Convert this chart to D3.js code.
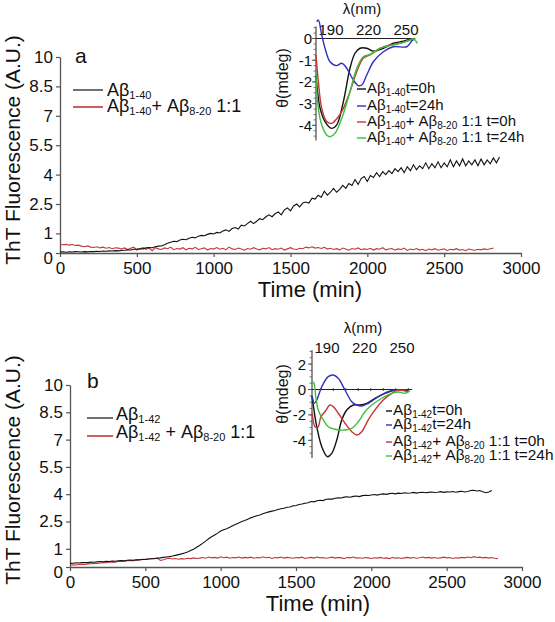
<!DOCTYPE html>
<html><head><meta charset="utf-8">
<script src="https://cdn.jsdelivr.net/npm/d3@7"></script>
<style>body{margin:0;background:#fff} svg{display:block} text{font-family:"Liberation Sans",Arial,sans-serif;fill:#111}</style>
</head><body><svg id="c" width="555" height="622"></svg>
<script>
// ---------------- DATA ----------------
const timeTicks = [0, 500, 1000, 1500, 2000, 2500, 3000];
const yTicks = [0, 1, 2.5, 4, 5.5, 7, 8.5, 10];
const timeStep = 20; // min between samples

// Panel a (Aβ1-40), ThT fluorescence, samples every 20 min starting at 0
const a_ab140 = [0.05,0.06,0.04,0.06,0.05,0.07,0.06,0.05,0.07,0.06,0.08,0.07,0.09,0.08,0.1,0.09,0.11,0.1,0.12,0.11,0.13,
 0.14,0.16,0.15,0.19,0.2,0.22,0.21,0.26,0.28,0.27,0.32,0.35,0.36,0.42,0.5,
 0.55,0.6,0.58,0.66,0.7,0.68,0.75,0.8,0.77,0.86,0.9,0.88,0.95,1.0,0.97,
 1.05,1.02,1.12,1.18,1.1,1.25,1.3,1.22,1.42,1.38,1.5,1.62,1.5,1.62,1.75,
 1.7,1.85,1.95,1.85,2.0,2.1,1.95,2.2,2.3,2.15,2.4,2.5,2.35,2.55,2.6,
 2.55,2.8,2.75,2.95,2.85,3.15,2.95,3.1,3.3,3.1,3.25,3.45,3.3,3.55,3.45,
 3.75,3.5,3.8,3.9,3.65,3.95,3.85,4.1,3.9,4.15,4.0,4.2,4.05,4.3,4.15,
 4.35,4.1,4.4,4.2,4.5,4.25,4.45,4.3,4.6,4.3,4.55,4.35,4.65,4.35,4.6,
 4.4,4.75,4.4,4.7,4.45,4.8,4.45,4.7,4.5,4.75,4.45,4.8,4.5,4.75,4.55,4.85,4.6,4.9];
const a_ab140_ab820 = [0.45,0.42,0.44,0.4,0.43,0.38,0.4,0.35,0.32,0.36,0.3,0.28,0.32,0.26,0.3,0.24,0.28,0.22,0.27,0.25,
 0.2,0.26,0.18,0.24,0.3,0.15,0.22,0.28,0.19,0.25,
 0.12,0.27,0.21,0.18,0.26,0.22,0.3,0.17,0.23,0.2,
 0.27,0.16,0.24,0.21,0.29,0.18,0.22,0.26,0.15,0.23,
 0.2,0.28,0.19,0.24,0.17,0.3,0.21,0.18,0.25,0.2,
 0.14,0.23,0.19,0.27,0.2,0.16,0.24,0.21,0.28,0.17,
 0.22,0.19,0.25,0.15,0.21,0.27,0.2,0.18,0.24,0.22,
 0.3,0.26,0.32,0.25,0.28,0.23,0.29,0.2,0.24,0.18,
 0.22,0.16,0.25,0.2,0.14,0.23,0.19,0.26,0.17,0.21,
 0.18,0.24,0.15,0.22,0.19,0.27,0.16,0.2,0.23,0.14,
 0.21,0.18,0.25,0.13,0.2,0.17,0.23,0.15,0.19,0.12,
 0.2,0.16,0.22,0.14,0.18,0.21,0.13,0.19,0.16,0.22,
 0.15,0.18,0.12,0.2,0.17,0.14,0.19,0.16,0.21,0.18,
 0.22,0.25];

// Panel b (Aβ1-42)
const b_ab142 = [0.2,0.21,0.23,0.22,0.24,0.25,0.24,0.27,0.26,0.28,0.3,0.29,0.31,0.3,0.33,0.32,0.34,0.35,0.34,0.37,
 0.38,0.37,0.4,0.39,0.41,0.42,0.44,0.45,0.47,0.49,0.5,0.53,0.55,0.57,0.6,0.64,0.68,0.72,0.77,0.83,
 0.9,0.98,1.08,1.18,1.3,1.42,1.55,1.66,1.76,1.86,1.98,2.05,2.1,2.18,2.27,2.35,2.42,2.5,2.55,2.63,
 2.7,2.76,2.82,2.86,2.93,2.98,3.03,3.07,3.1,3.16,3.2,3.23,3.28,3.3,3.36,3.38,3.43,3.46,3.5,3.53,
 3.6,3.58,3.64,3.67,3.65,3.72,3.74,3.73,3.78,3.8,3.79,3.84,3.86,3.83,3.88,3.9,3.87,3.92,3.94,3.93,
 3.96,3.98,3.95,4.0,4.02,3.99,4.03,4.05,4.02,4.06,4.04,4.08,4.05,4.07,4.1,4.06,4.09,4.11,4.08,4.1,
 4.12,4.09,4.11,4.14,4.1,4.13,4.12,4.15,4.11,4.14,4.16,4.12,4.15,4.2,4.22,4.18,4.2,4.14,4.08,4.12,
 4.2];
const b_ab142_ab820 = [0.1,0.12,0.11,0.14,0.15,0.14,0.17,0.18,0.2,0.19,0.22,0.24,0.23,0.26,0.28,0.27,0.3,0.32,0.31,0.34,
 0.36,0.35,0.38,0.4,0.42,0.41,0.44,0.46,0.45,0.48,0.36,0.4,0.45,0.48,0.44,0.47,0.43,0.46,0.44,0.48,
 0.46,0.5,0.47,0.49,0.52,0.48,0.55,0.5,0.53,0.49,0.56,0.51,0.54,0.48,0.52,0.5,0.55,0.49,0.53,0.5,
 0.54,0.48,0.52,0.5,0.56,0.51,0.53,0.47,0.52,0.5,0.55,0.49,0.53,0.51,0.48,0.52,0.5,0.54,0.47,0.51,
 0.53,0.49,0.55,0.5,0.52,0.48,0.51,0.54,0.49,0.53,0.5,0.47,0.52,0.5,0.55,0.49,0.51,0.48,0.52,0.5,
 0.47,0.51,0.49,0.53,0.48,0.5,0.46,0.52,0.49,0.51,0.47,0.5,0.53,0.49,0.52,0.48,0.51,0.55,0.5,0.53,
 0.49,0.52,0.48,0.5,0.54,0.5,0.52,0.47,0.51,0.49,0.53,0.5,0.55,0.51,0.57,0.52,0.54,0.5,0.53,0.49,
 0.52,0.48,0.46];

// CD insets: [wavelength nm, θ mdeg]
const cdTicks = [190, 220, 250];
const cdA_t0 = [[178,-1.7],[181.2,-3.2],[185.2,-3.83],[190.5,-4.14],[194.5,-3.99],[199.9,-2.91],[205.2,-1.37],[209.2,-0.68],[213.2,-0.45],[218.6,-0.45],[223.9,-0.58],[231.9,-0.45],[239.9,-0.22],[247.9,-0.12],[254.6,-0.02],[257,0]];
const cdA_t24 = [[178.6,0.77],[179.9,0.85],[182.6,0.16],[185.2,-0.45],[189.2,-1.07],[194.5,-1.25],[198.6,-1.14],[202.6,-1.37],[207.8,-1.91],[211.8,-2.17],[214.6,-2.14],[218.6,-1.68],[223.9,-1.07],[231.9,-0.61],[239.9,-0.38],[250.6,-0.38],[254.6,-0.12],[257,0]];
const cdA_mix_t0 = [[178,-0.76],[179.9,-1.99],[182.6,-3.22],[186.6,-3.83],[190.5,-3.91],[195.9,-3.6],[199.9,-3.22],[205.2,-2.45],[210.6,-1.53],[215.8,-0.91],[221.2,-0.76],[229.2,-0.45],[237.2,-0.3],[245.2,-0.22],[253.2,-0.07],[257,-0.02]];
const cdA_mix_t24 = [[177.8,-1.53],[179.9,-3.22],[182.6,-3.99],[186.6,-4.45],[189.2,-4.53],[193.2,-4.37],[198.6,-3.68],[205.2,-2.45],[210.6,-1.37],[215.8,-0.84],[221.2,-0.73],[229.2,-0.45],[237.2,-0.33],[247.9,-0.18],[253.2,-0.07],[255.8,0],[259,-0.22]];

const cdB_t0 = [[178,-0.5],[181.8,-2.93],[185.8,-4.5],[190.3,-5.29],[193.8,-5.03],[197.8,-3.98],[201.8,-2.4],[205.8,-1.61],[211,-1.22],[216.4,-1.22],[221.8,-1.09],[228.4,-0.69],[236.4,-0.3],[244.4,-0.04],[255,-0.09]];
const cdB_t24 = [[178.2,-0.57],[179.8,-1.09],[181.8,-0.83],[185.8,0.22],[191,1.01],[195,1.14],[199,0.88],[204.4,-0.04],[209.8,-0.96],[213.8,-1.22],[217.8,-1.3],[223,-1.09],[231,-0.57],[239,-0.17],[244.4,-0.04],[255,-0.04]];
const cdB_mix_t0 = [[178.2,-1.87],[180.4,-2.93],[182.6,-2.98],[185.2,-2.14],[188.4,-1.75],[192.4,-1.22],[195,-1.35],[199,-1.87],[204.4,-2.66],[209.8,-3.32],[213.8,-3.58],[217.8,-3.32],[223,-2.4],[228.4,-1.61],[235,-0.83],[241.8,-0.3],[247,-0.04],[255,-0.17]];
const cdB_mix_t24 = [[178.2,0.61],[179.6,0.49],[181,-0.57],[183,-1.61],[187,-2.4],[191,-2.93],[196.4,-3.13],[204.4,-3.19],[209.8,-3.06],[215,-2.54],[220.4,-1.75],[225.8,-1.22],[233.8,-0.69],[241.8,-0.3],[247,-0.2],[252.4,-0.3],[256.4,-0.12]];

const COL = {black:'#111', red:'#c03838', blue:'#3030c0', green:'#3cbf3c', axis:'#555'};

// ---------------- DRAW ----------------
const svg = d3.select('#c');

function rich(g, x, y, parts, size, subSize, shift, anchor) {
  const t = g.append('text').attr('x', x).attr('y', y).attr('font-size', size);
  if (anchor) t.attr('text-anchor', anchor);
  let down = false;
  parts.forEach(p => {
    const ts = t.append('tspan');
    if (typeof p === 'string') {
      ts.text(p);
      if (down) { ts.attr('dy', -shift); down = false; }
    } else {
      ts.text(p.sub).attr('font-size', subSize);
      if (!down) { ts.attr('dy', shift); down = true; }
    }
  });
  return t;
}

function mainPanel(c) {
  const g = svg.append('g');
  const x = d3.scaleLinear().domain([0, 3000]).range([c.x0, c.x1]);
  const y = d3.scaleLinear().domain([0, 10]).range([c.y0, c.y1]);
  const fmt = d => String(d);
  const ax = g.append('g').attr('transform', `translate(0,${c.y0})`)
    .call(d3.axisBottom(x).tickValues(timeTicks).tickFormat(fmt).tickSize(4).tickSizeOuter(0).tickPadding(5));
  const ay = g.append('g').attr('transform', `translate(${c.x0},0)`)
    .call(d3.axisLeft(y).tickValues(yTicks).tickFormat(fmt).tickSize(4).tickSizeOuter(0).tickPadding(3));
  [ax, ay].forEach(a => {
    a.select('.domain').attr('stroke', COL.axis).attr('stroke-width', 1.3);
    a.selectAll('.tick line').attr('stroke', COL.axis).attr('stroke-width', 1.2);
    a.selectAll('.tick text').attr('font-size', 17).attr('fill', '#111')
      .attr('font-family', '"Liberation Sans",Arial,sans-serif');
  });
  ay.selectAll('.tick').filter(d => d === 0).select('text').attr('dy', '0.6em');

  const line = d3.line().x(d => x(d[0])).y(d => y(d[1]));
  const toPts = arr => arr.map((v, i) => [i * timeStep, v]);
  g.append('path').datum(toPts(c.red)).attr('d', line).attr('fill', 'none')
    .attr('stroke', COL.red).attr('stroke-width', 1.1);
  g.append('path').datum(toPts(c.black)).attr('d', line).attr('fill', 'none')
    .attr('stroke', COL.black).attr('stroke-width', 1.1);

  // titles
  g.append('text').attr('x', c.xt).attr('y', c.yt).attr('text-anchor', 'middle')
    .attr('font-size', 22).text('Time (min)');
  g.append('text').attr('transform', `translate(20,${c.ytitleY}) rotate(-90)`)
    .attr('text-anchor', 'middle').attr('font-size', 21).text('ThT Fluorescence (A.U.)');
  g.append('text').attr('x', c.lx).attr('y', c.ly).attr('font-size', 21).text(c.letter);

  // legend
  c.legend.forEach((L, i) => {
    g.append('line').attr('x1', c.legX0).attr('x2', c.legX1).attr('y1', L.ly).attr('y2', L.ly)
      .attr('stroke', L.color).attr('stroke-width', i === 0 ? 1.2 : 1.6);
    rich(g, c.legTx, L.ty, L.parts, 18, 11, 3);
  });
}

function inset(c) {
  const g = svg.append('g');
  const x = d3.scaleLinear().domain([178, 260]).range([c.x0, c.x0 + 82 * 1.25]);
  const y = d3.scaleLinear().domain([0, 1]).range([c.zeroY, c.zeroY - c.unit]);
  // y axis
  g.append('line').attr('x1', c.x0).attr('x2', c.x0).attr('y1', y(c.yMax)).attr('y2', y(c.yMin))
    .attr('stroke', COL.axis).attr('stroke-width', 1.3);
  // minor ticks
  const minors = d3.range(Math.ceil(c.yMin / c.minor) * c.minor, c.yMax + 1e-9, c.minor);
  g.selectAll('.mn').data(minors).enter().append('line')
    .attr('x1', c.x0 - 2.5).attr('x2', c.x0).attr('y1', d => y(d)).attr('y2', d => y(d))
    .attr('stroke', COL.axis).attr('stroke-width', 0.8);
  g.selectAll('.mj').data(c.yTicks).enter().append('line')
    .attr('x1', c.x0 - 4).attr('x2', c.x0).attr('y1', d => y(d)).attr('y2', d => y(d))
    .attr('stroke', COL.axis).attr('stroke-width', 1);
  g.selectAll('.yl').data(c.yTicks).enter().append('text')
    .attr('x', c.labX).attr('y', d => y(d)).attr('dy', '0.36em').attr('text-anchor', 'end')
    .attr('font-size', 15).text(d => String(d));
  // x axis at zero
  g.append('line').attr('x1', c.x0).attr('x2', x(c.xEnd)).attr('y1', y(0)).attr('y2', y(0))
    .attr('stroke', '#222').attr('stroke-width', 1.2);
  if (c.xMinor) {
    g.selectAll('.xm').data(d3.range(185, c.xEnd, 10)).enter().append('line')
      .attr('x1', d => x(d)).attr('x2', d => x(d)).attr('y1', y(0) - 1.5).attr('y2', y(0) + 1.5)
      .attr('stroke', '#222').attr('stroke-width', 0.8);
  }
  g.selectAll('.xl').data(cdTicks).enter().append('text')
    .attr('x', d => x(d)).attr('y', c.xLabY).attr('text-anchor', 'middle')
    .attr('font-size', 15).text(d => String(d));
  g.append('text').attr('x', c.lamX).attr('y', c.lamY).attr('text-anchor', 'middle')
    .attr('font-size', 15).text('λ(nm)');
  g.append('text').attr('transform', `translate(288,${c.thY}) rotate(-90)`)
    .attr('text-anchor', 'middle').attr('font-size', 16).text('θ(mdeg)');

  const line = d3.line().x(d => x(d[0])).y(d => y(d[1])).curve(d3.curveCatmullRom.alpha(0.5));
  c.series.forEach(s => {
    g.append('path').datum(s.data).attr('d', line).attr('fill', 'none')
      .attr('stroke', s.color).attr('stroke-width', 1.4);
  });
  // legend
  c.series.forEach((s, i) => {
    const yy = c.legY[i];
    g.append('line').attr('x1', c.legX0).attr('x2', c.legX1).attr('y1', yy - 4).attr('y2', yy - 4)
      .attr('stroke', s.color).attr('stroke-width', 1.4);
    rich(g, c.legTx, yy, s.parts, c.legSize, 10, 3);
  });
}

mainPanel({
  x0: 60, x1: 521, y0: 253, y1: 57, black: a_ab140, red: a_ab140_ab820,
  xt: 310, yt: 297, ytitleY: 150, letter: 'a', lx: 75, ly: 63,
  legX0: 73, legX1: 103, legTx: 107,
  legend: [
    {color: COL.black, ly: 90, ty: 96, parts: ['Aβ', {sub: '1-40'}]},
    {color: COL.red, ly: 107, ty: 112, parts: ['Aβ', {sub: '1-40'}, '+ Aβ', {sub: '8-20'}, ' 1:1']}
  ]
});
mainPanel({
  x0: 70, x1: 522, y0: 567, y1: 385, black: b_ab142, red: b_ab142_ab820,
  xt: 318, yt: 611, ytitleY: 470, letter: 'b', lx: 87, ly: 388,
  legX0: 87, legX1: 113, legTx: 116,
  legend: [
    {color: COL.black, ly: 418, ty: 420, parts: ['Aβ', {sub: '1-42'}]},
    {color: COL.red, ly: 436, ty: 438, parts: ['Aβ', {sub: '1-42'}, ' + Aβ', {sub: '8-20'}, ' 1:1']}
  ]
});

inset({
  x0: 316, zeroY: 38.5, unit: 21.7, yMin: -4.7, yMax: 0.55, minor: 0.25, yTicks: [0, -1, -2, -3, -4],
  labX: 312, xEnd: 257.4, xLabY: 35, lamX: 362, lamY: 14, thY: 78, xMinor: false,
  legX0: 357, legX1: 366, legTx: 367, legY: [93, 110, 126, 142], legSize: 15,
  series: [
    {data: cdA_t0, color: COL.black, parts: ['Aβ', {sub: '1-40'}, 't=0h']},
    {data: cdA_t24, color: COL.blue, parts: ['Aβ', {sub: '1-40'}, 't=24h']},
    {data: cdA_mix_t0, color: COL.red, parts: ['Aβ', {sub: '1-40'}, '+ Aβ', {sub: '8-20'}, ' 1:1 t=0h']},
    {data: cdA_mix_t24, color: COL.green, parts: ['Aβ', {sub: '1-40'}, '+ Aβ', {sub: '8-20'}, ' 1:1 t=24h']}
  ]
});
inset({
  x0: 312, zeroY: 389.5, unit: 12.7, yMin: -5.4, yMax: 3.1, minor: 0.5, yTicks: [2, 0, -2, -4],
  labX: 306, xEnd: 258, xLabY: 353, lamX: 363, lamY: 333, thY: 394, xMinor: true,
  legX0: 386, legX1: 392, legTx: 393, legY: [415, 429, 446, 460], legSize: 15.4,
  series: [
    {data: cdB_t0, color: COL.black, parts: ['Aβ', {sub: '1-42'}, 't=0h']},
    {data: cdB_t24, color: COL.blue, parts: ['Aβ', {sub: '1-42'}, 't=24h']},
    {data: cdB_mix_t0, color: COL.red, parts: ['Aβ', {sub: '1-42'}, '+ Aβ', {sub: '8-20'}, ' 1:1 t=0h']},
    {data: cdB_mix_t24, color: COL.green, parts: ['Aβ', {sub: '1-42'}, '+ Aβ', {sub: '8-20'}, ' 1:1 t=24h']}
  ]
});
</script></body></html>
